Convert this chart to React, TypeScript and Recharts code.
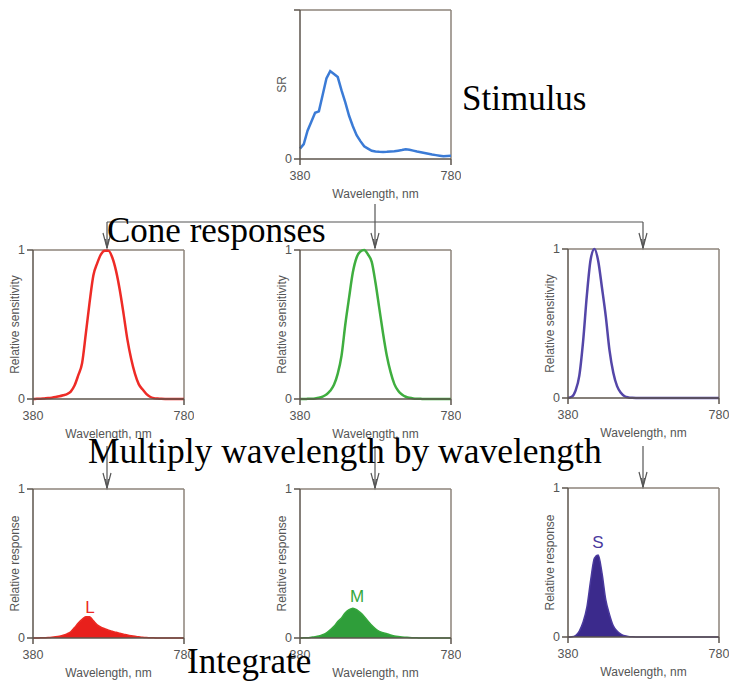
import { ComposedChart, Line, Area, XAxis, YAxis, ReferenceLine, ReferenceDot } from "recharts";

const wavelengths = [
  380, 390, 400, 410, 420, 430, 440, 450, 460, 470, 480, 490, 500, 510, 520, 530, 540, 550, 560, 570, 580,
  590, 600, 610, 620, 630, 640, 650, 660, 670, 680, 690, 700, 710, 720, 730, 740, 750, 760, 770, 780,
];

const stimulus = [
  0.07, 0.1, 0.19, 0.25, 0.31, 0.32, 0.43, 0.54, 0.59, 0.57, 0.55, 0.46, 0.38, 0.29, 0.22, 0.16, 0.12, 0.085,
  0.07, 0.055, 0.05, 0.048, 0.047, 0.048, 0.05, 0.052, 0.056, 0.06, 0.066, 0.062, 0.056, 0.05, 0.045, 0.04,
  0.035, 0.03, 0.026, 0.022, 0.018, 0.02, 0.022,
];

const coneL = [
  0, 0.001, 0.002, 0.004, 0.006, 0.009, 0.013, 0.018, 0.025, 0.033, 0.05, 0.09, 0.16, 0.24, 0.44, 0.65, 0.83,
  0.91, 0.97, 0.995, 0.995, 0.95, 0.86, 0.73, 0.57, 0.4, 0.27, 0.17, 0.1, 0.065, 0.035, 0.015, 0.006, 0.003,
  0.001, 0, 0, 0, 0, 0, 0,
];

const coneM = [
  0, 0, 0.001, 0.002, 0.004, 0.008, 0.016, 0.03, 0.055, 0.095, 0.17, 0.29, 0.5, 0.68, 0.85, 0.95, 0.99, 1.0,
  0.97, 0.92, 0.78, 0.61, 0.44, 0.29, 0.18, 0.1, 0.055, 0.03, 0.015, 0.008, 0.004, 0.002, 0.001, 0, 0, 0, 0,
  0, 0, 0, 0,
];

const coneS = [
  0, 0.008, 0.05, 0.15, 0.38, 0.69, 0.93, 1.0, 0.92, 0.74, 0.55, 0.32, 0.17, 0.08, 0.035, 0.012, 0.004, 0.001,
  0, 0, 0, 0, 0, 0, 0, 0, 0, 0, 0, 0, 0, 0, 0, 0, 0, 0, 0, 0, 0, 0, 0,
];

const responseL = [
  0, 0, 0.001, 0.002, 0.003, 0.005, 0.008, 0.012, 0.018, 0.028, 0.042, 0.07, 0.1, 0.125, 0.142, 0.142, 0.115,
  0.088, 0.072, 0.062, 0.052, 0.045, 0.038, 0.032, 0.026, 0.02, 0.015, 0.011, 0.008, 0.005, 0.003, 0.002,
  0.001, 0, 0, 0, 0, 0, 0, 0, 0,
];

const responseM = [
  0, 0.001, 0.002, 0.005, 0.008, 0.013, 0.022, 0.035, 0.055, 0.078, 0.11, 0.135, 0.17, 0.19, 0.2, 0.19, 0.17,
  0.145, 0.115, 0.085, 0.062, 0.045, 0.036, 0.029, 0.02, 0.014, 0.01, 0.007, 0.005, 0.003, 0.002, 0.001, 0,
  0, 0, 0, 0, 0, 0, 0, 0,
];

const responseS = [
  0, 0.002, 0.01, 0.04, 0.1, 0.2, 0.38, 0.53, 0.55, 0.43, 0.25, 0.15, 0.075, 0.04, 0.02, 0.008, 0.003, 0.001,
  0, 0, 0, 0, 0, 0, 0, 0, 0, 0, 0, 0, 0, 0, 0, 0, 0, 0, 0, 0, 0, 0, 0,
];

const xTicks = [380, 780];
const yTicks = [0, 1];

const frameDark = "#5d554d";
const frameLight = "#8c837a";
const textGray = "#555";

type PanelProps = {
  left: number;
  top: number;
  values: number[];
  color: string;
  fill?: string;
  yLabel: string;
  hideTop?: boolean;
  linear?: boolean;
  tag?: { text: string; x: number; y: number };
};

function Panel({ left, top, values, color, fill, yLabel, hideTop, linear, tag }: PanelProps) {
  const data = wavelengths.map((w, i) => ({ w, v: values[i] }));
  return (
    <div style={{ position: "absolute", left: left - 33, top: top - 10 }}>
      <ComposedChart width={194} height={204} data={data} margin={{ top: 10, right: 10, left: 0, bottom: 0 }}>
        <ReferenceLine y={1} stroke={frameLight} strokeWidth={1.5} />
        <ReferenceLine x={780} stroke={frameLight} strokeWidth={1.5} />
        <XAxis
          dataKey="w"
          type="number"
          domain={[380, 780]}
          ticks={xTicks}
          height={45}
          stroke={frameDark}
          strokeWidth={1.5}
          tickSize={6}
          tickMargin={6}
          tick={{ fontSize: 12.5, fill: textGray }}
          label={{ value: "Wavelength, nm", position: "insideBottom", offset: 6, fontSize: 12, fill: textGray }}
        />
        <YAxis
          type="number"
          domain={[0, 1]}
          ticks={yTicks}
          width={33}
          stroke={frameDark}
          strokeWidth={1.5}
          tickSize={6}
          tickMargin={2}
          tick={{ fontSize: 12.5, fill: textGray }}
          tickFormatter={(v) => (hideTop && v === 1 ? "" : String(v))}
          label={{
            value: yLabel,
            angle: -90,
            position: "insideLeft",
            offset: 15,
            fontSize: 12,
            fill: textGray,
            style: { textAnchor: "middle" },
          }}
        />
        {fill ? (
          <Area
            dataKey="v"
            type="monotone"
            stroke={color}
            strokeWidth={1.5}
            fill={fill}
            fillOpacity={1}
            dot={false}
            isAnimationActive={false}
          />
        ) : (
          <Line
            dataKey="v"
            type={linear ? "linear" : "monotone"}
            stroke={color}
            strokeWidth={2.5}
            dot={false}
            isAnimationActive={false}
          />
        )}
        {tag && (
          <ReferenceDot
            x={tag.x}
            y={tag.y}
            r={0}
            stroke="none"
            label={{ value: tag.text, position: "center", fontSize: 17, fill: color }}
          />
        )}
      </ComposedChart>
    </div>
  );
}

function Arrow({ x, y1, y2 }: { x: number; y1: number; y2: number }) {
  return (
    <g stroke="#555" strokeWidth={1.2} fill="none">
      <line x1={x} y1={y1} x2={x} y2={y2} />
      <path d={`M ${x - 4} ${y2 - 15} L ${x} ${y2} L ${x + 4} ${y2 - 15}`} />
      <path d={`M ${x - 1.5} ${y2 - 9} L ${x} ${y2} L ${x + 1.5} ${y2 - 9}`} />
    </g>
  );
}

const serif: React.CSSProperties = {
  position: "absolute",
  fontFamily: "'Liberation Serif', 'Times New Roman', serif",
  fontSize: 35,
  lineHeight: "35px",
  color: "#000",
  whiteSpace: "nowrap",
};

export default function App() {
  return (
    <div
      style={{
        position: "absolute",
        left: 0,
        top: 0,
        width: 731,
        height: 685,
        background: "#fff",
        fontFamily: "'Liberation Sans', Arial, sans-serif",
        overflow: "hidden",
      }}
    >
      <Panel left={300} top={10} values={stimulus} color="#3b7bd6" yLabel="SR" hideTop linear />

      <Panel left={33} top={250} values={coneL} color="#ee2b26" yLabel="Relative sensitivity" />
      <Panel left={300} top={250} values={coneM} color="#3fae3f" yLabel="Relative sensitivity" />
      <Panel left={568} top={249} values={coneS} color="#5446a8" yLabel="Relative sensitivity" />

      <Panel
        left={33}
        top={489}
        values={responseL}
        color="#ec2a22"
        fill="#e8201c"
        yLabel="Relative response"
        tag={{ text: "L", x: 531, y: 0.21 }}
      />
      <Panel
        left={300}
        top={489}
        values={responseM}
        color="#36a83c"
        fill="#2f9e3a"
        yLabel="Relative response"
        tag={{ text: "M", x: 531, y: 0.28 }}
      />
      <Panel
        left={568}
        top={488}
        values={responseS}
        color="#4a3a9e"
        fill="#3b2a8c"
        yLabel="Relative response"
        tag={{ text: "S", x: 459, y: 0.64 }}
      />

      <svg width={731} height={685} style={{ position: "absolute", left: 0, top: 0, pointerEvents: "none" }}>
        <line x1={107} y1={222} x2={643} y2={222} stroke="#555" strokeWidth={1.2} />
        <Arrow x={375} y1={204} y2={248} />
        <Arrow x={107} y1={222} y2={248} />
        <Arrow x={643} y1={222} y2={248} />
        <Arrow x={107} y1={446} y2={488} />
        <Arrow x={375} y1={446} y2={488} />
        <Arrow x={643} y1={446} y2={487} />
      </svg>

      <div style={{ ...serif, left: 462, top: 81 }}>Stimulus</div>
      <div style={{ ...serif, left: 107, top: 213 }}>Cone responses</div>
      <div style={{ ...serif, left: 88, top: 434, fontSize: 35.5 }}>Multiply wavelength by wavelength</div>
      <div style={{ ...serif, left: 187, top: 644 }}>Integrate</div>
    </div>
  );
}
